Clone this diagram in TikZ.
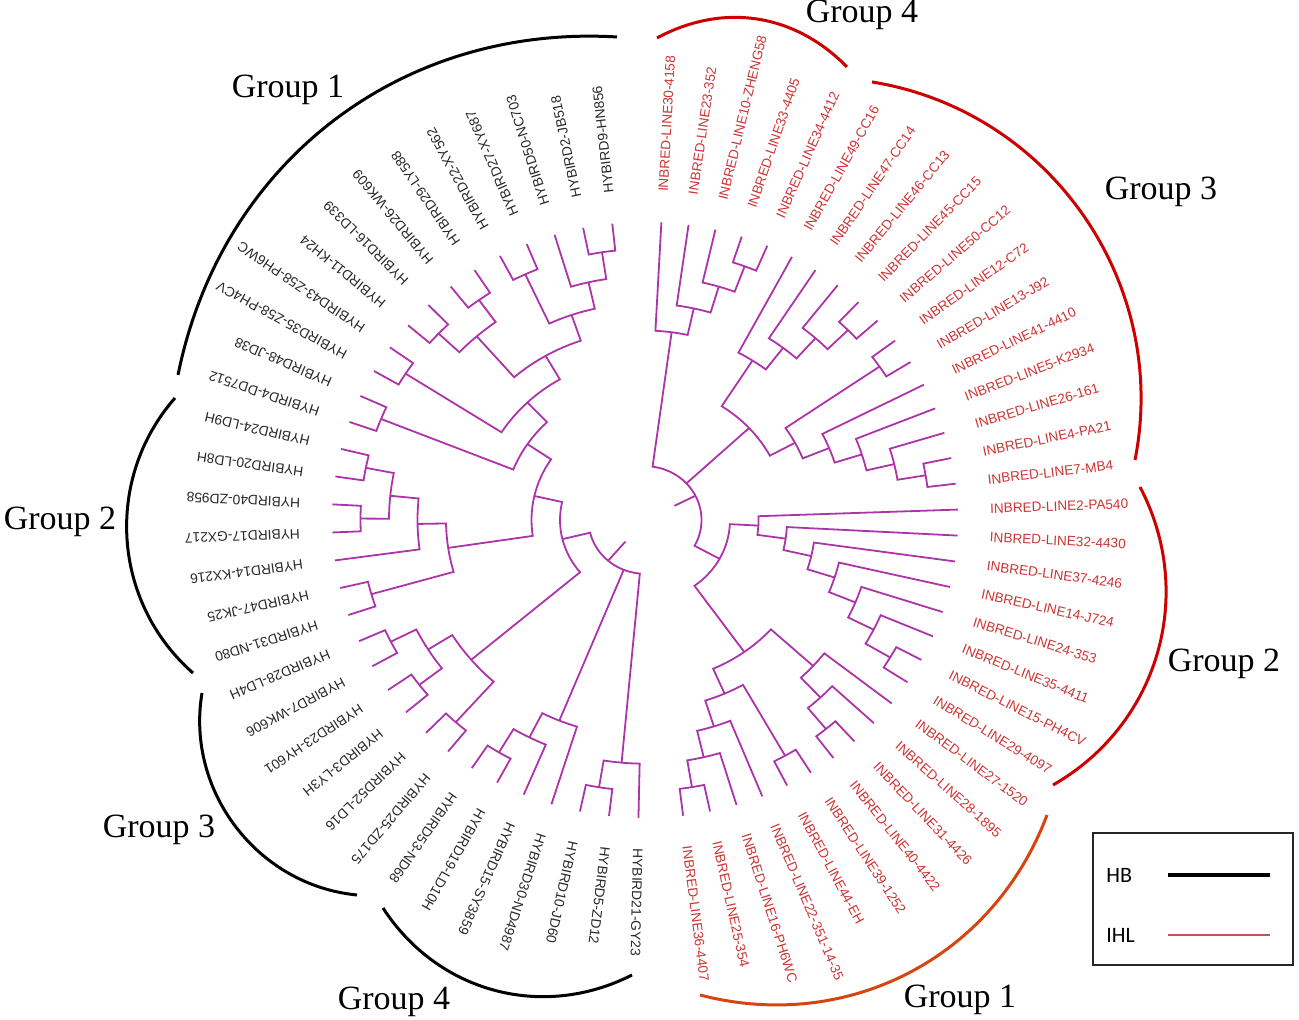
\documentclass[tikz,border=0pt]{standalone}
\usepackage{fontspec}
\newfontfamily\leaffont{Liberation Sans}
\newfontfamily\groupfont{Liberation Serif}
\newfontfamily\legendfont{Carlito}
\definecolor{branchcol}{RGB}{172,52,168}
\definecolor{hybcol}{RGB}{40,40,40}
\definecolor{inbredcol}{RGB}{205,52,52}
\definecolor{grpred}{RGB}{204,0,0}
\definecolor{grporange}{RGB}{214,68,16}
\definecolor{ihlcol}{RGB}{192,86,76}
\tikzset{
  branch/.style={draw=branchcol, line width=0.9pt},
  hblab/.style={anchor=west, inner sep=0pt, text=hybcol, font=\leaffont\fontsize{6.9}{8}\selectfont},
  iblab/.style={anchor=west, inner sep=0pt, text=inbredcol, font=\leaffont\fontsize{6.8}{8}\selectfont},
  grouplab/.style={font=\groupfont\fontsize{17}{20}\selectfont},
  hbarc/.style={line width=1.5pt, black},
  ibarc/.style={line width=1.5pt, grpred},
  legtext/.style={anchor=west, inner sep=0pt, font=\legendfont\fontsize{11}{13}\selectfont},
}
% one clade: radius of the node, then angle/radius of both children
\newcommand{\clade}[5]{\draw[branch] (#2:#3) -- (#2:#1) arc[start angle=#2, end angle=#4, radius=#1] -- (#4:#5);}
\begin{document}
\begin{tikzpicture}[x=0.5pt, y=0.5pt]
\useasboundingbox (0,0) rectangle (1299,1020);
\begin{scope}[shift={(645,500)}, yscale=0.952]
% inbred lines, group 4
\pgfmathsetmacro\ibD{(72+67)/2}
\clade{284.5}{72}{313}{67}{313}
\pgfmathsetmacro\ibC{(77+\ibD)/2}
\clade{256}{77}{313}{\ibD}{284.5}
\pgfmathsetmacro\ibB{(82+\ibC)/2}
\clade{227.5}{82}{313}{\ibC}{256}
\pgfmathsetmacro\ibA{(87+\ibB)/2}
\clade{199}{87}{313}{\ibB}{227.5}
% inbred lines, group 3
\pgfmathsetmacro\ibI{(47+42)/2}
\clade{284.5}{47}{313}{42}{313}
\pgfmathsetmacro\ibH{(52+\ibI)/2}
\clade{256}{52}{313}{\ibI}{284.5}
\pgfmathsetmacro\ibG{(57+\ibH)/2}
\clade{227.5}{57}{313}{\ibH}{256}
\pgfmathsetmacro\ibF{(62+\ibG)/2}
\clade{199}{62}{313}{\ibG}{227.5}
\pgfmathsetmacro\ibJ{(37+32)/2}
\clade{284.5}{37}{313}{32}{313}
\pgfmathsetmacro\ibO{(12+7)/2}
\clade{284.5}{12}{313}{7}{313}
\pgfmathsetmacro\ibN{(17+\ibO)/2}
\clade{256}{17}{313}{\ibO}{284.5}
\pgfmathsetmacro\ibM{(22+\ibN)/2}
\clade{227.5}{22}{313}{\ibN}{256}
\pgfmathsetmacro\ibL{(27+\ibM)/2}
\clade{199}{27}{313}{\ibM}{227.5}
\pgfmathsetmacro\ibK{(\ibJ+\ibL)/2}
\clade{170.5}{\ibJ}{284.5}{\ibL}{199}
\pgfmathsetmacro\ibE{(\ibF+\ibK)/2}
\clade{142}{\ibF}{199}{\ibK}{170.5}
% inbred lines, group 2
\pgfmathsetmacro\ibPa{(-28-33)/2}
\clade{284.5}{-28}{313}{-33}{313}
\pgfmathsetmacro\ibPb{(-23+\ibPa)/2}
\clade{256}{-23}{313}{\ibPa}{284.5}
\pgfmathsetmacro\ibPc{(-18+\ibPb)/2}
\clade{227.5}{-18}{313}{\ibPb}{256}
\pgfmathsetmacro\ibPd{(-13+\ibPc)/2}
\clade{199}{-13}{313}{\ibPc}{227.5}
\pgfmathsetmacro\ibPe{(-8+\ibPd)/2}
\clade{170.5}{-8}{313}{\ibPd}{199}
\pgfmathsetmacro\ibPf{(-3+\ibPe)/2}
\clade{142}{-3}{313}{\ibPe}{170.5}
\pgfmathsetmacro\ibPi{(2+\ibPf)/2}
\clade{113.5}{2}{313}{\ibPf}{142}
% inbred lines, group 1
\pgfmathsetmacro\ibQa{(-48-53)/2}
\clade{284.5}{-48}{313}{-53}{313}
\pgfmathsetmacro\ibQb{(-43+\ibQa)/2}
\clade{256}{-43}{313}{\ibQa}{284.5}
\pgfmathsetmacro\ibPsi{(-38+\ibQb)/2}
\clade{227.5}{-38}{313}{\ibQb}{256}
\pgfmathsetmacro\ibSa{(-58-63)/2}
\clade{284.5}{-58}{313}{-63}{313}
\pgfmathsetmacro\ibUa{(-78-83)/2}
\clade{284.5}{-78}{313}{-83}{313}
\pgfmathsetmacro\ibUb{(-73+\ibUa)/2}
\clade{256}{-73}{313}{\ibUa}{284.5}
\pgfmathsetmacro\ibUc{(-68+\ibUb)/2}
\clade{227.5}{-68}{313}{\ibUb}{256}
\pgfmathsetmacro\ibXi{(\ibSa+\ibUc)/2}
\clade{199}{\ibSa}{284.5}{\ibUc}{227.5}
\pgfmathsetmacro\ibPhi{(\ibPsi+\ibXi)/2}
\clade{170.5}{\ibPsi}{227.5}{\ibXi}{199}
\pgfmathsetmacro\ibSig{(\ibPi+\ibPhi)/2}
\clade{85}{\ibPi}{113.5}{\ibPhi}{170.5}
% inbred root
\pgfmathsetmacro\ibRoot{(\ibA+\ibSig)/2}
\clade{56.5}{\ibA}{199}{\ibSig}{85}
\draw[branch] (\ibE:56.5) -- (\ibE:142);
\draw[branch] (\ibRoot:56.5) -- (\ibRoot:33);
% hybrids, group 1
\pgfmathsetmacro\hyPa{(96+101.4)/2}
\clade{284.5}{96}{313}{101.4}{313}
\pgfmathsetmacro\hyQ{(\hyPa+106.8)/2}
\clade{256}{\hyPa}{284.5}{106.8}{313}
\pgfmathsetmacro\hyPb{(112.2+117.6)/2}
\clade{284.5}{112.2}{313}{117.6}{313}
\pgfmathsetmacro\hyR{(\hyQ+\hyPb)/2}
\clade{227.5}{\hyQ}{256}{\hyPb}{284.5}
\pgfmathsetmacro\hyPc{(123+128.4)/2}
\clade{284.5}{123}{313}{128.4}{313}
\pgfmathsetmacro\hyPd{(133.8+139.2)/2}
\clade{284.5}{133.8}{313}{139.2}{313}
\pgfmathsetmacro\hyT{(\hyPc+\hyPd)/2}
\clade{256}{\hyPc}{284.5}{\hyPd}{284.5}
\pgfmathsetmacro\hyS{(\hyR+\hyT)/2}
\clade{199}{\hyR}{227.5}{\hyT}{256}
\pgfmathsetmacro\hyW{(144.6+150)/2}
\clade{284.5}{144.6}{313}{150}{313}
\pgfmathsetmacro\hyV{(\hyS+\hyW)/2}
\clade{170.5}{\hyS}{199}{\hyW}{284.5}
\pgfmathsetmacro\hyY{(155.4+160.8)/2}
\clade{284.5}{155.4}{313}{160.8}{313}
\pgfmathsetmacro\hyX{(\hyV+\hyY)/2}
\clade{142}{\hyV}{170.5}{\hyY}{284.5}
% hybrids, group 2
\pgfmathsetmacro\hyPe{(166.2+171.6)/2}
\clade{284.5}{166.2}{313}{171.6}{313}
\pgfmathsetmacro\hyPf{(177+182.4)/2}
\clade{284.5}{177}{313}{182.4}{313}
\pgfmathsetmacro\hyPg{(\hyPe+\hyPf)/2}
\clade{256}{\hyPe}{284.5}{\hyPf}{284.5}
\pgfmathsetmacro\hyPh{(\hyPg+187.8)/2}
\clade{227.5}{\hyPg}{256}{187.8}{313}
\pgfmathsetmacro\hyPi{(193.2+198.6)/2}
\clade{284.5}{193.2}{313}{198.6}{313}
\pgfmathsetmacro\hyGam{(\hyPh+\hyPi)/2}
\clade{199}{\hyPh}{227.5}{\hyPi}{284.5}
\pgfmathsetmacro\hyZ{(\hyX+\hyGam)/2}
\clade{113.5}{\hyX}{142}{\hyGam}{199}
% hybrids, group 3
\pgfmathsetmacro\hyPj{(204+209.4)/2}
\clade{284.5}{204}{313}{209.4}{313}
\pgfmathsetmacro\hyPk{(214.8+220.2)/2}
\clade{284.5}{214.8}{313}{220.2}{313}
\pgfmathsetmacro\hyPl{(\hyPj+\hyPk)/2}
\clade{256}{\hyPj}{284.5}{\hyPk}{284.5}
\pgfmathsetmacro\hyPm{(225.6+231)/2}
\clade{284.5}{225.6}{313}{231}{313}
\pgfmathsetmacro\hyDel{(\hyPl+\hyPm)/2}
\clade{227.5}{\hyPl}{256}{\hyPm}{284.5}
\pgfmathsetmacro\hyOm{(\hyZ+\hyDel)/2}
\clade{85}{\hyZ}{113.5}{\hyDel}{227.5}
% hybrids, group 4
\pgfmathsetmacro\hyPn{(236.4+241.8)/2}
\clade{284.5}{236.4}{313}{241.8}{313}
\pgfmathsetmacro\hyPo{(\hyPn+247.2)/2}
\clade{256}{\hyPn}{284.5}{247.2}{313}
\pgfmathsetmacro\hyTh{(\hyPo+252.6)/2}
\clade{227.5}{\hyPo}{256}{252.6}{313}
\pgfmathsetmacro\hyPp{(258+263.4)/2}
\clade{284.5}{258}{313}{263.4}{313}
\pgfmathsetmacro\hyLam{(\hyPp+268.8)/2}
\clade{256}{\hyPp}{284.5}{268.8}{313}
% hybrid root
\pgfmathsetmacro\hyRoot{(\hyOm+\hyLam)/2}
\clade{56.5}{\hyOm}{85}{\hyLam}{256}
\draw[branch] (\hyTh:56.5) -- (\hyTh:227.5);
\draw[branch] (\hyRoot:56.5) -- (\hyRoot:30);
% leaf labels
\foreach \txt [count=\k from 0] in {HYBIRD9-HN856, HYBIRD2-JB518, HYBIRD50-NC703,
  HYBIRD27-XY687, HYBIRD22-XY562, HYBIRD29-LY588, HYBIRD26-WK609, HYBIRD16-LD339,
  HYBIRD11-KH24, HYBIRD43-Z58-PH6WC, HYBIRD35-Z58-PH4CV, HYBIRD48-JD38,
  HYBIRD4-DD7512, HYBIRD24-LD9H, HYBIRD20-LD8H, HYBIRD40-ZD958, HYBIRD17-GX217,
  HYBIRD14-KX216, HYBIRD47-JK25, HYBIRD31-ND80, HYBIRD28-LD4H, HYBIRD7-WK606,
  HYBIRD23-HY601, HYBIRD3-LY3H, HYBIRD52-LD16, HYBIRD25-ZD175, HYBIRD53-ND68,
  HYBIRD19-LD10H, HYBIRD15-SY3859, HYBIRD30-ND4987, HYBIRD10-JD60, HYBIRD5-ZD12,
  HYBIRD21-GY23}{
  \pgfmathsetmacro\labang{96+5.4*\k}
  \pgfmathsetmacro\labrot{atan2(0.952*sin(\labang),cos(\labang))}
  \node[hblab, rotate=\labrot] (hb\k) at (\labang:345) {\txt};
}
\foreach \txt [count=\k from 0] in {INBRED-LINE30-4158, INBRED-LINE23-352,
  INBRED-LINE10-ZHENG58, INBRED-LINE33-4405, INBRED-LINE34-4412, INBRED-LINE49-CC16,
  INBRED-LINE47-CC14, INBRED-LINE46-CC13, INBRED-LINE45-CC15, INBRED-LINE50-CC12,
  INBRED-LINE12-C72, INBRED-LINE13-J92, INBRED-LINE41-4410, INBRED-LINE5-K2934,
  INBRED-LINE26-161, INBRED-LINE4-PA21, INBRED-LINE7-MB4, INBRED-LINE2-PA540,
  INBRED-LINE32-4430, INBRED-LINE37-4246, INBRED-LINE14-J724, INBRED-LINE24-353,
  INBRED-LINE35-4411, INBRED-LINE15-PH4CV, INBRED-LINE29-4097, INBRED-LINE27-1520,
  INBRED-LINE28-1895, INBRED-LINE31-4426, INBRED-LINE40-4422, INBRED-LINE39-1252,
  INBRED-LINE44-EH, INBRED-LINE22-351-14-35, INBRED-LINE16-PH6WC, INBRED-LINE25-354,
  INBRED-LINE36-4407}{
  \pgfmathsetmacro\labang{87-5*\k}
  \pgfmathsetmacro\labrot{atan2(0.952*sin(\labang),cos(\labang))}
  \node[iblab, rotate=\labrot] (ib\k) at (\labang:345) {\txt};
}
\end{scope}
% group brackets
\draw[hbarc] (178,645) to[bend left=41] (617,983);
\draw[hbarc] (175,622) to[bend right=45] (193,347);
\draw[hbarc] (202,327) to[bend right=47] (357,125);
\draw[hbarc] (383,112) to[bend right=42] (632,45);
\draw[ibarc] (657,982) to[bend left=37] (847,953);
\draw[ibarc] (872,938) to[bend left=46] (1135,560);
\draw[ibarc] (1140,533) to[bend left=44] (1053,235);
\draw[ibarc, grporange] (1047,205) to[bend left=42] (700,25);
\node[grouplab] (hg1) at (288,930) {Group 1};
\node[grouplab] (hg2) at (60,498) {Group 2};
\node[grouplab] (hg3) at (159,190) {Group 3};
\node[grouplab] (hg4) at (394,18) {Group 4};
\node[grouplab] (ig4) at (862,1005) {Group 4};
\node[grouplab] (ig3) at (1161,828) {Group 3};
\node[grouplab] (ig2) at (1224,356) {Group 2};
\node[grouplab] (ig1) at (960,20) {Group 1};
% legend
\draw[line width=0.6pt, black!85] (1093,55) rectangle (1293,187);
\node[legtext] (lhb) at (1106,145) {HB};
\node[legtext] (lihl) at (1106,85) {IHL};
\coordinate (hbA) at (1168,145);
\coordinate (hbB) at (1270,145);
\coordinate (ihlA) at (1168,85);
\coordinate (ihlB) at (1270,85);
\draw[line width=2pt] (hbA) -- (hbB);
\draw[line width=1.4pt, ihlcol] (ihlA) -- (ihlB);
\end{tikzpicture}
\end{document}
